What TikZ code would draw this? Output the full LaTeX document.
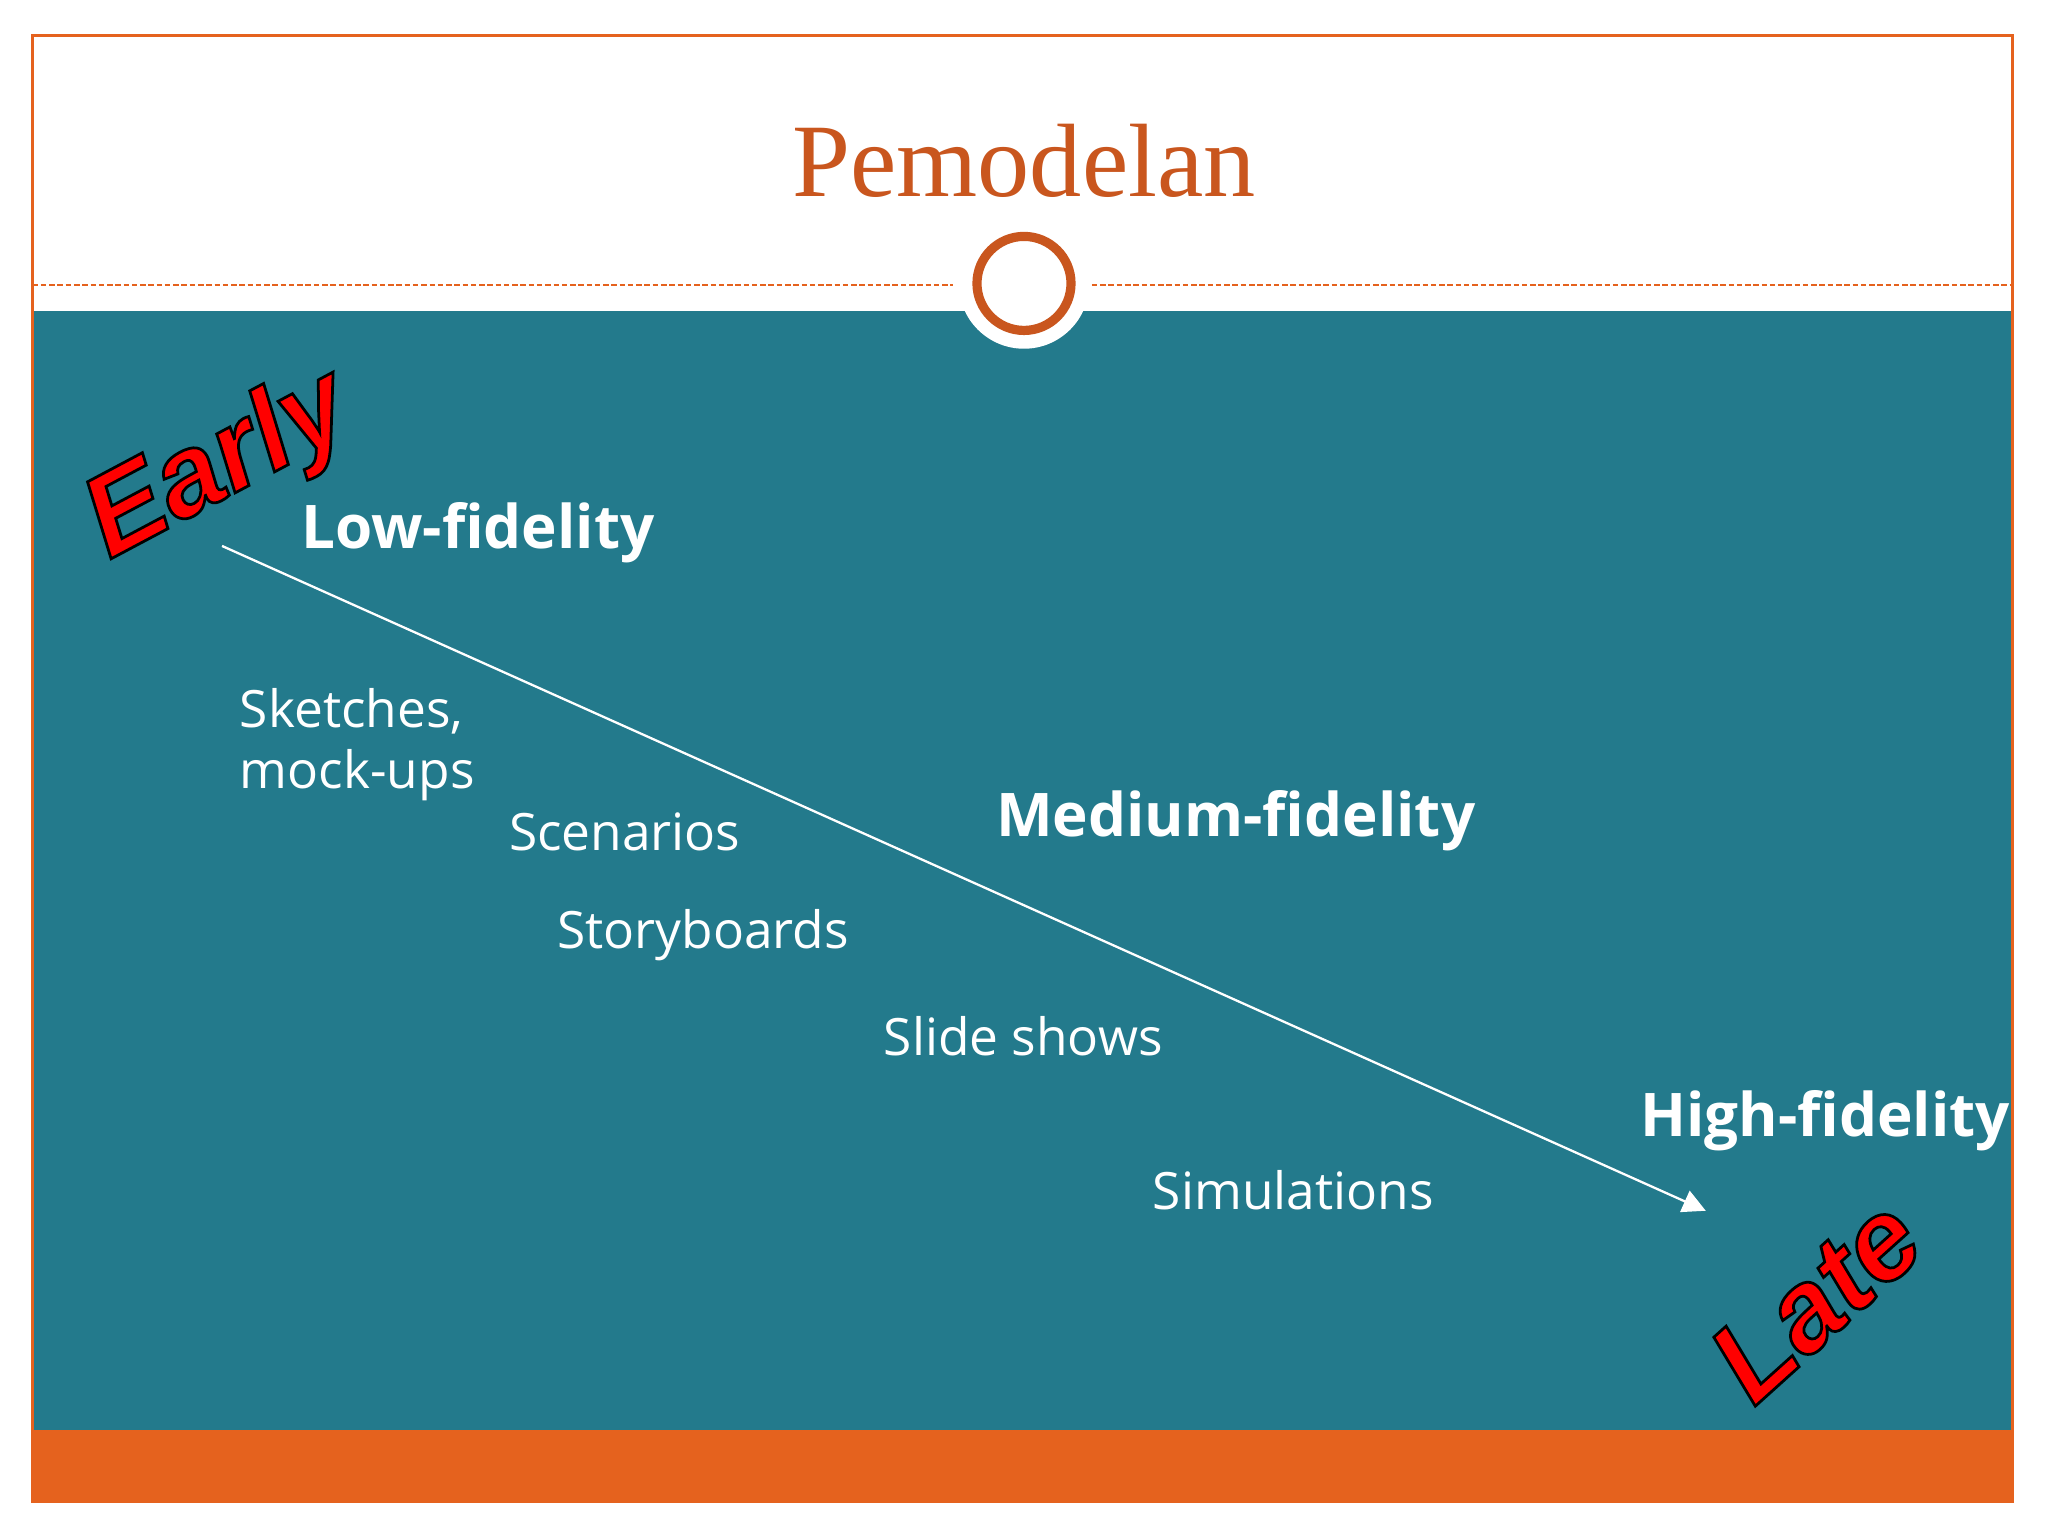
\documentclass[tikz,border=0pt]{standalone}
\usepackage{fontspec}
\setmainfont{Open Sans}
\newfontfamily\titlefont{Liberation Serif}
\newfontfamily\boldarial{Liberation Sans}
\usetikzlibrary{arrows.meta}
\definecolor{teal1}{HTML}{237A8C}
\definecolor{orng}{HTML}{E5621E}
\definecolor{torng}{HTML}{C9561E}
\newcommand{\outl}[1]{\special{pdf:literal 2 Tr 0 0 0 RG 0.6 w}#1\special{pdf:literal 0 Tr}}
\tikzset{lab/.style={text=white,anchor=west,font=\fontsize{11.2}{13}\selectfont,inner sep=0},
 big/.style={text=white,anchor=west,font=\fontsize{13.1}{16}\selectfont\bfseries,inner sep=0},
 wow/.style={text=red,font=\fontsize{25}{28}\selectfont\boldarial\bfseries\itshape,inner sep=0}}
\begin{document}
\begin{tikzpicture}[x=0.01cm,y=-0.01cm]
\useasboundingbox[fill=white] (0,0) rectangle (1568,1176);
\fill[teal1] (25,238) rectangle (1541,1095);
\fill[orng] (25,1095) rectangle (1541,1150);
\draw[orng,line width=0.6pt] (25,27) rectangle (1541,1150);
\draw[orng,dash pattern=on 1.2pt off 0.6pt,line width=0.4pt] (25,218) -- (730,218);
\draw[orng,dash pattern=on 1.2pt off 0.6pt,line width=0.4pt] (836,218) -- (1541,218);
\fill[white] (784,217) circle (50);
\draw[torng,line width=2pt] (784,217) circle (36);
\node[text=torng,font=\fontsize{22.7}{26}\selectfont\titlefont] (title) at (784,123) {Pemodelan};
\coordinate (s) at (170,418);
\coordinate (e) at (1306,927);
\draw[white,line width=0.5pt,-{Triangle[length=5pt,width=5pt]}] (s) -- (e);
\node[big] (low) at (230,408) {Low-fidelity};
\node[big] (med) at (762,628) {Medium-fidelity};
\node[big] (high) at (1255,858) {High-fidelity};
\node[lab,align=left,anchor=north west,font=\fontsize{11.2}{13.4}\selectfont] (sk) at (183,526) {Sketches,\\mock-ups};
\node[lab] (sc) at (389,637) {Scenarios};
\node[lab] (st) at (426,716) {Storyboards};
\node[lab] (sl) at (676,793) {Slide shows};
\node[lab] (si) at (882,911) {Simulations};
\node[wow,rotate=28] (early) at (168,358) {\outl{Early}};
\node[wow,rotate=42] (late) at (1390,995) {\outl{Late}};
\end{tikzpicture}
\end{document}
